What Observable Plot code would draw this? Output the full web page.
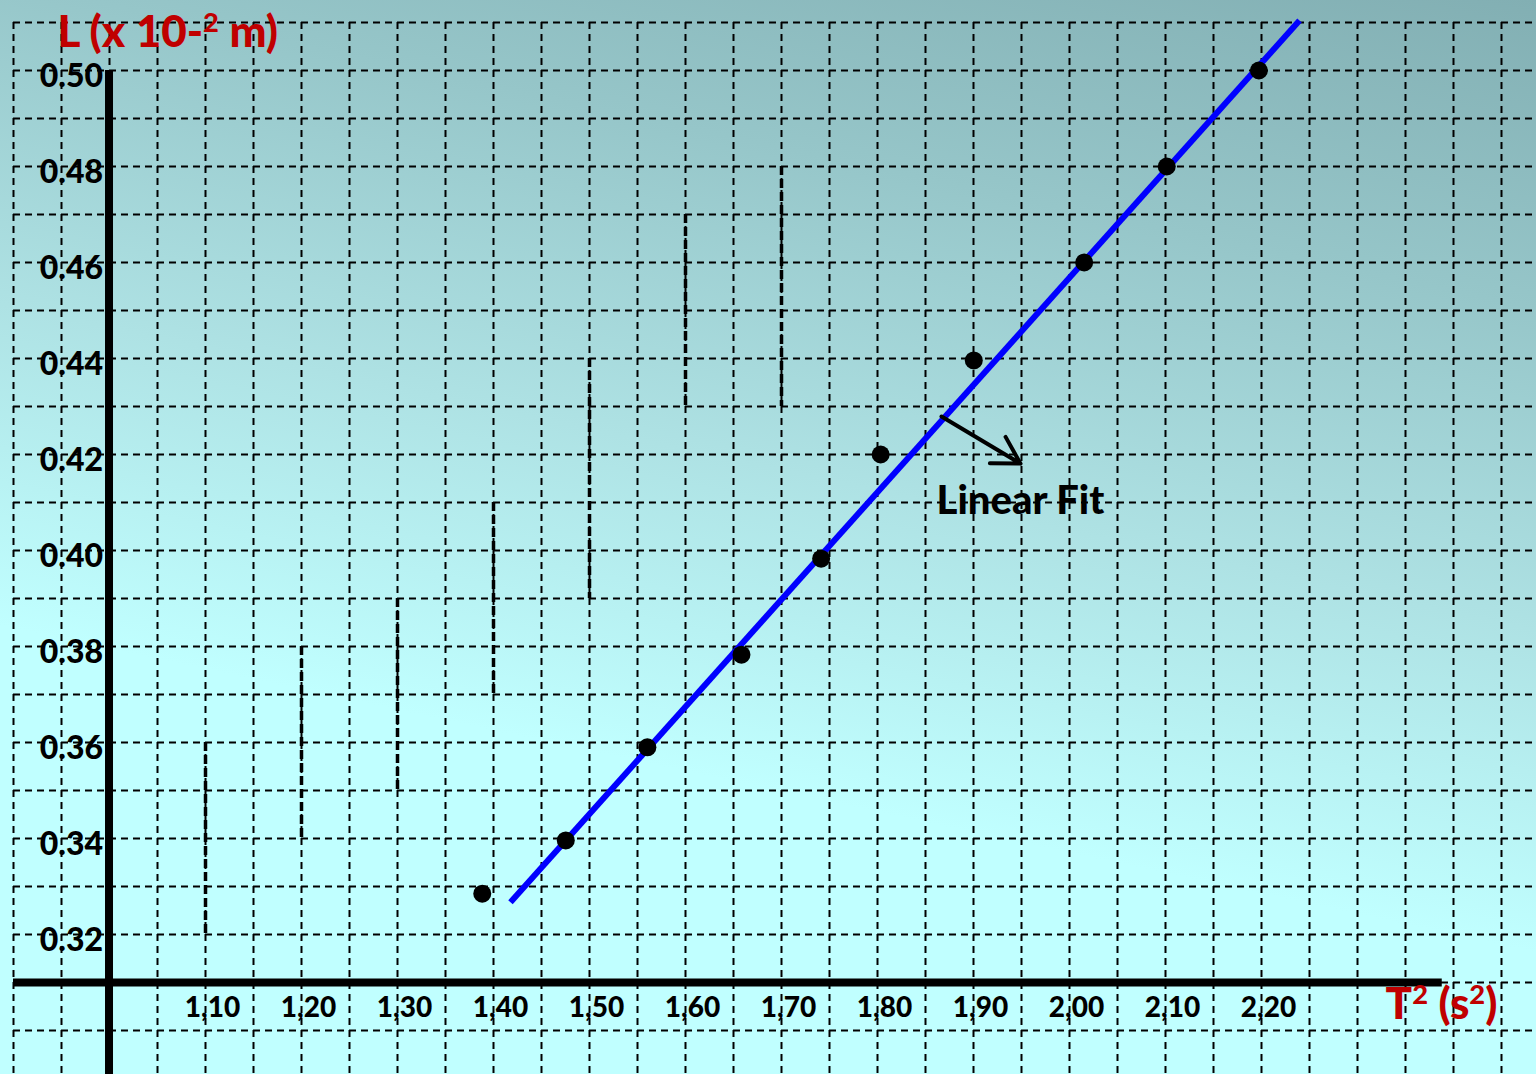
<!DOCTYPE html>
<html>
<head>
<meta charset="utf-8">
<script src="https://cdn.jsdelivr.net/npm/d3@7"></script>
<script src="https://cdn.jsdelivr.net/npm/@observablehq/plot@0.6"></script>
<style>
html, body { margin: 0; padding: 0; overflow: hidden; background: #c0ffff; }
#chart svg { display: block; }
</style>
</head>
<body>
<div id="chart"></div>
<script>
// Measured points: T² (s²) vs L
const t2Values = [1.381, 1.468, 1.553, 1.651, 1.734, 1.796, 1.893, 2.008, 2.094, 2.190];
const lValues  = [0.3285, 0.3396, 0.3590, 0.3783, 0.3983, 0.4200, 0.4396, 0.4600, 0.4800, 0.5000];

// Linear fit end points
const fitT2 = [1.4104, 2.2323];
const fitL  = [0.3267, 0.5104];

// Tick labels
const xTickValues = [1.10, 1.20, 1.30, 1.40, 1.50, 1.60, 1.70, 1.80, 1.90, 2.00, 2.10, 2.20];
const xTickLabels = ["1,10", "1,20", "1,30", "1,40", "1,50", "1,60", "1,70", "1,80", "1,90", "2,00", "2,10", "2,20"];
const yTickValues = [0.32, 0.34, 0.36, 0.38, 0.40, 0.42, 0.44, 0.46, 0.48, 0.50];
const yTickLabels = ["0.32", "0.34", "0.36", "0.38", "0.40", "0.42", "0.44", "0.46", "0.48", "0.50"];

// Heavier dashed guide segments (grid column index, L top, L bottom)
const guideColumns = [4, 6, 8, 10, 12, 14, 16];
const guideTop     = [0.36, 0.38, 0.39, 0.41, 0.44, 0.47, 0.48];
const guideBottom  = [0.32, 0.34, 0.35, 0.37, 0.39, 0.43, 0.43];

// Texts
const yTitle = "L (x 10-² m)";
const xTitle = "T² (s²)";
const fitLabel = "Linear Fit";

// Scale frame
const X0 = 0.879167, X1 = 2.479167;
const Y0 = 0.290833, Y1 = 0.514583;
const AXIS_T2 = 0.9922;  // where the L axis is drawn
const AXIS_L = 0.31;     // where the T² axis is drawn

// Paper grid (0.05 s² by 0.01 m squares)
const gridX = d3.range(32).map(k => 0.89271 + 0.05 * k);
const gridY = d3.range(23).map(k => 0.29 + 0.01 * k);

const points = t2Values.map((x, i) => ({x, y: lValues[i]}));
const fit = fitT2.map((x, i) => ({x, y: fitL[i]}));
const xTicks = xTickValues.map((v, i) => ({v, label: xTickLabels[i]}));
const yTicks = yTickValues.map((v, i) => ({v, label: yTickLabels[i]}));
const guides = guideColumns.map((c, i) => ({x: gridX[c], y1: guideTop[i], y2: guideBottom[i]}));

const chart = Plot.plot({
  width: 1536,
  height: 1074,
  margin: 0,
  x: {domain: [X0, X1], axis: null},
  y: {domain: [Y0, Y1], axis: null},
  style: {
    background: "linear-gradient(192deg, #82afb3 0%, #96c6c9 22%, #aee2e4 45%, #c0ffff 68%, #c0ffff 100%)",
    fontFamily: "Lato, 'Open Sans', sans-serif"
  },
  marks: [
    Plot.ruleX(gridX, {x: d => d, y1: 0.51, y2: Y0, stroke: "#000", strokeWidth: 2, strokeDasharray: "7,5"}),
    Plot.ruleY(gridY, {y: d => d, x1: gridX[0], x2: X1, stroke: "#000", strokeWidth: 2, strokeDasharray: "7,5"}),
    Plot.ruleX(guides, {x: "x", y1: "y1", y2: "y2", stroke: "#000", strokeWidth: 3.5, strokeDasharray: "9,4"}),
    Plot.ruleY([AXIS_L], {x1: gridX[0], x2: 2.381, stroke: "#000", strokeWidth: 8}),
    Plot.ruleX([AXIS_T2], {y1: 0.50, y2: Y0, stroke: "#000", strokeWidth: 8}),
    Plot.line(fit, {x: "x", y: "y", stroke: "#0000ff", strokeWidth: 6, strokeLinecap: "butt"}),
    Plot.dot(points, {x: "x", y: "y", r: 9, fill: "#000", stroke: null}),
    Plot.text(yTicks, {x: AXIS_T2, y: "v", text: "label", dx: -6, dy: 6, textAnchor: "end",
      fontSize: 32, fontWeight: 900, fill: "#000"}),
    Plot.text(xTicks, {x: "v", y: AXIS_L, text: "label", dy: 26,
      fontSize: 28, fontWeight: 900, fill: "#000"}),
    Plot.text([yTitle], {x: 0.9385, y: 0.5085, text: d => d, dy: 3, textAnchor: "start",
      fontSize: 44, fontWeight: 900, fill: "#c00000", className: "sup-title"}),
    Plot.text([xTitle], {x: 2.3802, y: AXIS_L, text: d => d, dy: 22,
      fontSize: 44, fontWeight: 900, fill: "#c00000", className: "sup-title"}),
    Plot.arrow([{x1: 1.8594, y1: 0.4279, x2: 1.9417, y2: 0.4181}], {x1: "x1", y1: "y1", x2: "x2", y2: "y2",
      stroke: "#000", strokeWidth: 4, headLength: 24, headAngle: 60}),
    Plot.text([fitLabel], {x: 1.8542, y: 0.4102, text: d => d, textAnchor: "start",
      fontSize: 40, fontWeight: 900, fill: "#000"})
  ]
});

// Render "²" as a real superscript tspan in the titles
d3.select(chart).selectAll("g.sup-title text").each(function() {
  const t = this.textContent;
  const parts = t.split("²");
  const sel = d3.select(this);
  sel.text(null);
  parts.forEach((p, i) => {
    if (p) sel.append("tspan").text(p);
    if (i < parts.length - 1) {
      sel.append("tspan").attr("baseline-shift", "55%").attr("font-size", "62%").text("2");
    }
  });
});

document.getElementById("chart").appendChild(chart);
</script>
</body>
</html>
